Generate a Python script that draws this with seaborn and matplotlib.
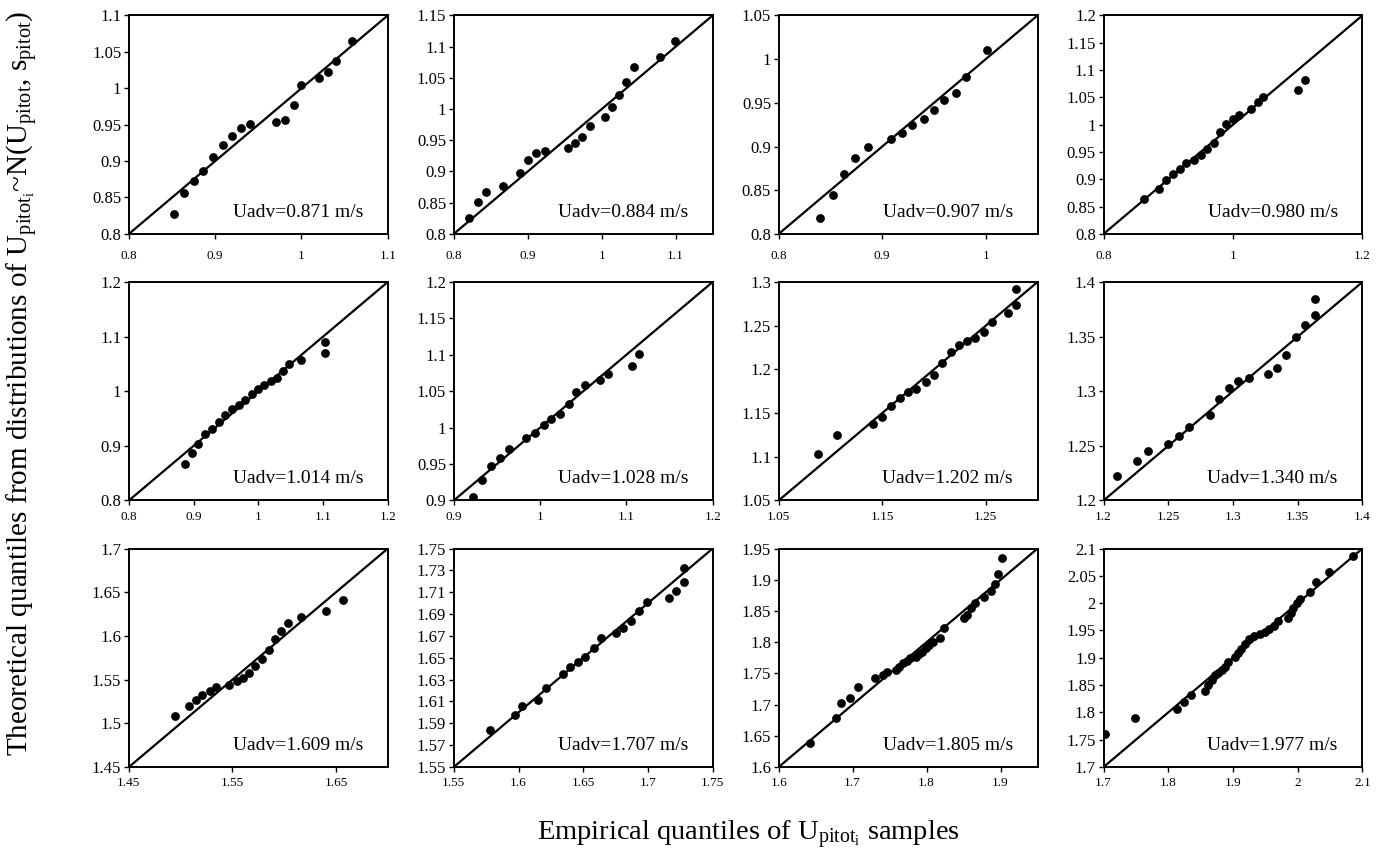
import numpy as np
import pandas as pd
import matplotlib
matplotlib.use('Agg')
import matplotlib.pyplot as plt
import seaborn as sns
from matplotlib.ticker import FuncFormatter

# advection velocity of each run (panel label)
uadv = [0.871, 0.884, 0.907, 0.980, 1.014, 1.028, 1.202, 1.340, 1.609, 1.707, 1.805, 1.977]

# empirical (x) / theoretical (y) quantiles
emp_0871 = [0.852, 0.864, 0.875, 0.886, 0.897, 0.909, 0.919, 0.930, 0.940, 0.971, 0.981,
            0.991, 1.000, 1.020, 1.031, 1.040, 1.059]
theo_0871 = [0.828, 0.856, 0.872, 0.886, 0.906, 0.922, 0.935, 0.945, 0.951, 0.954, 0.957,
             0.977, 1.005, 1.014, 1.022, 1.037, 1.065]

emp_0884 = [0.820, 0.833, 0.844, 0.867, 0.890, 0.901, 0.911, 0.923, 0.954, 0.964, 0.974,
            0.984, 1.004, 1.014, 1.024, 1.033, 1.043, 1.079, 1.099]
theo_0884 = [0.825, 0.851, 0.867, 0.877, 0.898, 0.919, 0.929, 0.933, 0.938, 0.945, 0.955,
             0.973, 0.987, 1.003, 1.023, 1.044, 1.068, 1.084, 1.109]

emp_0907 = [0.840, 0.852, 0.863, 0.874, 0.886, 0.908, 0.919, 0.929, 0.940, 0.950, 0.960,
            0.971, 0.981, 1.001]
theo_0907 = [0.818, 0.845, 0.869, 0.887, 0.900, 0.909, 0.915, 0.925, 0.932, 0.942, 0.953,
             0.961, 0.980, 1.010]

emp_0980 = [0.863, 0.885, 0.897, 0.907, 0.918, 0.928, 0.939, 0.950, 0.960, 0.970, 0.980,
            0.989, 1.000, 1.009, 1.028, 1.038, 1.047, 1.101, 1.111]
theo_0980 = [0.863, 0.883, 0.898, 0.910, 0.919, 0.929, 0.935, 0.944, 0.955, 0.967, 0.987,
             1.001, 1.011, 1.017, 1.029, 1.042, 1.050, 1.063, 1.082]

emp_1014 = [0.886, 0.897, 0.907, 0.918, 0.928, 0.939, 0.949, 0.959, 0.970, 0.979, 0.990,
            0.999, 1.009, 1.019, 1.029, 1.038, 1.048, 1.066, 1.103, 1.103]
theo_1014 = [0.866, 0.886, 0.903, 0.922, 0.931, 0.944, 0.957, 0.967, 0.975, 0.984, 0.994,
             1.004, 1.011, 1.019, 1.025, 1.037, 1.049, 1.058, 1.090, 1.070]

emp_1028 = [0.922, 0.933, 0.943, 0.953, 0.964, 0.984, 0.994, 1.004, 1.013, 1.023, 1.033,
            1.042, 1.052, 1.070, 1.079, 1.106, 1.115]
theo_1028 = [0.905, 0.928, 0.947, 0.958, 0.971, 0.986, 0.993, 1.003, 1.012, 1.019, 1.033,
             1.049, 1.059, 1.066, 1.073, 1.084, 1.101]

emp_1202 = [1.088, 1.106, 1.141, 1.150, 1.158, 1.167, 1.175, 1.183, 1.192, 1.200, 1.208,
            1.216, 1.224, 1.232, 1.240, 1.248, 1.256, 1.271, 1.279, 1.279]
theo_1202 = [1.103, 1.125, 1.137, 1.146, 1.158, 1.167, 1.174, 1.178, 1.185, 1.194, 1.207,
             1.220, 1.228, 1.233, 1.236, 1.243, 1.254, 1.265, 1.274, 1.292]

emp_1340 = [1.210, 1.226, 1.234, 1.250, 1.258, 1.266, 1.282, 1.289, 1.297, 1.304, 1.312,
            1.327, 1.334, 1.341, 1.349, 1.356, 1.363, 1.363]
theo_1340 = [1.222, 1.236, 1.245, 1.252, 1.259, 1.267, 1.278, 1.293, 1.303, 1.309, 1.312,
             1.316, 1.321, 1.333, 1.350, 1.361, 1.370, 1.384]

emp_1609 = [1.495, 1.508, 1.515, 1.521, 1.528, 1.534, 1.547, 1.554, 1.560, 1.566, 1.572,
            1.579, 1.585, 1.591, 1.597, 1.604, 1.616, 1.640, 1.657]
theo_1609 = [1.508, 1.520, 1.527, 1.532, 1.537, 1.541, 1.544, 1.548, 1.552, 1.558, 1.566,
             1.574, 1.584, 1.596, 1.606, 1.615, 1.622, 1.629, 1.641]

emp_1707 = [1.578, 1.597, 1.603, 1.615, 1.621, 1.634, 1.640, 1.646, 1.651, 1.658, 1.664,
            1.675, 1.681, 1.687, 1.693, 1.699, 1.716, 1.722, 1.728, 1.728]
theo_1707 = [1.584, 1.598, 1.606, 1.611, 1.622, 1.635, 1.642, 1.646, 1.651, 1.659, 1.668,
             1.673, 1.677, 1.684, 1.693, 1.701, 1.705, 1.711, 1.719, 1.732]

emp_1805 = [1.643, 1.678, 1.684, 1.696, 1.707, 1.730, 1.741, 1.747, 1.758, 1.763, 1.768,
            1.773, 1.777, 1.786, 1.790, 1.794, 1.799, 1.803, 1.808, 1.818, 1.824, 1.850,
            1.855, 1.860, 1.865, 1.877, 1.887, 1.892, 1.897, 1.902]
theo_1805 = [1.639, 1.678, 1.702, 1.710, 1.728, 1.742, 1.748, 1.752, 1.756, 1.761, 1.766,
             1.770, 1.774, 1.777, 1.781, 1.785, 1.790, 1.796, 1.801, 1.806, 1.823, 1.838,
             1.844, 1.854, 1.862, 1.872, 1.882, 1.893, 1.909, 1.935]

emp_1977 = [1.702, 1.748, 1.813, 1.824, 1.835, 1.856, 1.862, 1.867, 1.872, 1.877, 1.883,
            1.888, 1.893, 1.903, 1.908, 1.913, 1.919, 1.924, 1.933, 1.941, 1.950, 1.955,
            1.964, 1.969, 1.985, 1.990, 1.993, 1.999, 2.004, 2.019, 2.028, 2.048, 2.086]
theo_1977 = [1.761, 1.789, 1.807, 1.819, 1.831, 1.839, 1.850, 1.860, 1.868, 1.872, 1.878,
             1.884, 1.892, 1.901, 1.909, 1.916, 1.926, 1.935, 1.939, 1.943, 1.948, 1.953,
             1.959, 1.968, 1.973, 1.982, 1.991, 2.000, 2.008, 2.021, 2.039, 2.057, 2.087]

empirical = [emp_0871, emp_0884, emp_0907, emp_0980, emp_1014, emp_1028,
             emp_1202, emp_1340, emp_1609, emp_1707, emp_1805, emp_1977]
theoretical = [theo_0871, theo_0884, theo_0907, theo_0980, theo_1014, theo_1028,
               theo_1202, theo_1340, theo_1609, theo_1707, theo_1805, theo_1977]

# axis range (same on x and y) and tick steps for each panel
lims = [(0.8, 1.1), (0.8, 1.15), (0.8, 1.05), (0.8, 1.2),
        (0.8, 1.2), (0.9, 1.2), (1.05, 1.3), (1.2, 1.4),
        (1.45, 1.7), (1.55, 1.75), (1.6, 1.95), (1.7, 2.1)]
xsteps = [0.1, 0.1, 0.1, 0.2, 0.1, 0.1, 0.1, 0.05, 0.1, 0.05, 0.1, 0.1]
ysteps = [0.05, 0.05, 0.05, 0.05, 0.1, 0.05, 0.05, 0.05, 0.05, 0.02, 0.05, 0.05]

frames = []
for u, xs, ys in zip(uadv, empirical, theoretical):
    frames.append(pd.DataFrame({'run': u, 'empirical': xs, 'theoretical': ys}))
df = pd.concat(frames, ignore_index=True)

sns.set_style('white')
plt.rcParams['font.family'] = ['Liberation Serif', 'DejaVu Serif']
plt.rcParams['text.color'] = 'black'
plt.rcParams['mathtext.fontset'] = 'custom'
plt.rcParams['mathtext.rm'] = 'Liberation Serif'
plt.rcParams['mathtext.it'] = 'Liberation Serif:italic'

fig, axes = plt.subplots(3, 4, figsize=(13.86, 8.57), dpi=100)
fig.subplots_adjust(left=0.093, right=0.983, top=0.982, bottom=0.105,
                    wspace=0.255, hspace=0.22)

fmt = FuncFormatter(lambda v, p: f'{round(v, 3):g}')

for i, ax in enumerate(axes.flat):
    u = uadv[i]
    lo, hi = lims[i]
    sns.scatterplot(data=df[df['run'] == u], x='empirical', y='theoretical',
                    color='black', s=40, linewidth=0, ax=ax, legend=False)
    ax.axline((lo, lo), slope=1, color='black', linewidth=1.6, zorder=1)
    ax.set_xlim(lo, hi)
    ax.set_ylim(lo, hi)
    ax.set_xticks(np.arange(lo, hi + 1e-6, xsteps[i]))
    ax.set_yticks(np.arange(lo, hi + 1e-6, ysteps[i]))
    ax.xaxis.set_major_formatter(fmt)
    ax.yaxis.set_major_formatter(fmt)
    ax.set_xlabel('')
    ax.set_ylabel('')
    for sp in ax.spines.values():
        sp.set_color('black')
        sp.set_linewidth(1.4)
    xpad = 8 if i < 4 else 4
    ax.tick_params(axis='x', direction='out', length=3.5, width=1, colors='black',
                   labelsize=9.5, pad=xpad, bottom=True)
    ax.tick_params(axis='y', direction='out', length=3.5, width=1, colors='black',
                   labelsize=12, pad=2, left=True)
    ax.text(0.905, 0.06, f'Uadv={u:.3f} m/s', transform=ax.transAxes,
            ha='right', va='bottom', fontsize=14, color='black')

fig.text(0.016, 0.553,
         r'Theoretical quantiles from distributions of U$_{\mathregular{pitot}_{\mathregular{i}}}$'
         r'~N(U$_{\mathregular{pitot}}$, s$_{\mathregular{pitot}}$)',
         rotation=90, ha='center', va='center', fontsize=21)
fig.text(0.54, 0.026,
         r'Empirical quantiles of U$_{\mathregular{pitot}_{\mathregular{i}}}$ samples',
         ha='center', va='center', fontsize=20.5)

fig.savefig('out.png', dpi=100)
